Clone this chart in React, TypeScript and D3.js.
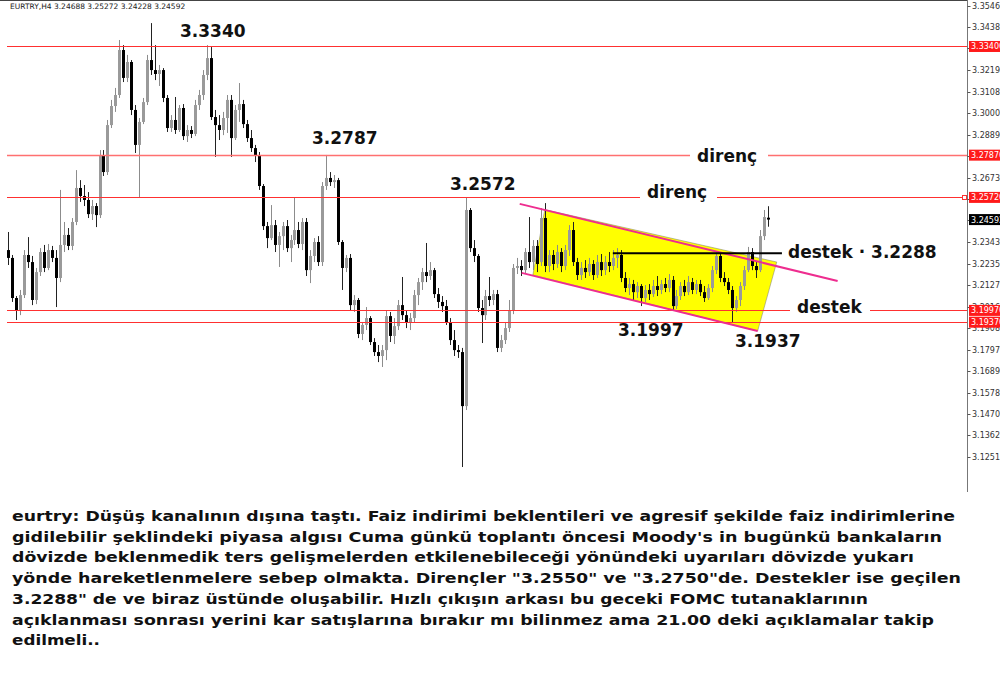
import React from "react";
import * as d3 from "d3";

// OHLC candles (EURTRY H4): [open, high, low, close]
const candles: [number, number, number, number][] = [
  [3.2304, 3.2396, 3.2228, 3.2264], [3.2264, 3.2279, 3.2040, 3.2060], [3.2060, 3.2070, 3.1948, 3.1999], [3.1999, 3.2101, 3.1973, 3.2075],
  [3.2075, 3.2304, 3.2060, 3.2279], [3.2279, 3.2370, 3.2213, 3.2243], [3.2243, 3.2274, 3.2024, 3.2050], [3.2050, 3.2213, 3.2029, 3.2192],
  [3.2192, 3.2314, 3.2172, 3.2294], [3.2294, 3.2330, 3.2192, 3.2213], [3.2213, 3.2335, 3.2202, 3.2304], [3.2304, 3.2325, 3.2243, 3.2264],
  [3.2264, 3.2304, 3.2014, 3.2162], [3.2162, 3.2610, 3.2141, 3.2330], [3.2330, 3.2447, 3.2294, 3.2381], [3.2381, 3.2416, 3.2304, 3.2325],
  [3.2325, 3.2467, 3.2304, 3.2447], [3.2447, 3.2711, 3.2431, 3.2620], [3.2620, 3.2660, 3.2549, 3.2579], [3.2579, 3.2635, 3.2528, 3.2559],
  [3.2559, 3.2599, 3.2467, 3.2487], [3.2487, 3.2559, 3.2457, 3.2528], [3.2528, 3.2543, 3.2421, 3.2482], [3.2482, 3.2813, 3.2467, 3.2783],
  [3.2783, 3.2813, 3.2681, 3.2701], [3.2701, 3.2966, 3.2686, 3.2940], [3.2940, 3.3068, 3.2925, 3.3037], [3.3037, 3.3129, 3.3007, 3.3093],
  [3.3093, 3.3373, 3.3078, 3.3322], [3.3322, 3.3347, 3.3159, 3.3180], [3.3180, 3.3297, 3.3159, 3.3261], [3.3261, 3.3271, 3.2991, 3.3017],
  [3.3017, 3.3042, 3.2798, 3.2839], [3.2839, 3.2976, 3.2574, 3.2956], [3.2956, 3.3078, 3.2945, 3.3057], [3.3057, 3.3297, 3.3042, 3.3271],
  [3.3271, 3.3459, 3.3195, 3.3220], [3.3220, 3.3347, 3.3169, 3.3200], [3.3200, 3.3246, 3.3139, 3.3220], [3.3220, 3.3230, 3.3057, 3.3078],
  [3.3078, 3.3093, 3.2905, 3.2925], [3.2925, 3.2991, 3.2905, 3.2966], [3.2966, 3.3083, 3.2895, 3.2915], [3.2915, 3.3042, 3.2905, 3.3027],
  [3.3027, 3.3047, 3.2864, 3.2884], [3.2884, 3.2940, 3.2854, 3.2915], [3.2915, 3.2935, 3.2874, 3.2895], [3.2895, 3.3068, 3.2884, 3.3042],
  [3.3042, 3.3119, 3.3017, 3.3093], [3.3093, 3.3220, 3.3068, 3.3195], [3.3195, 3.3347, 3.3169, 3.3281], [3.3281, 3.3337, 3.2966, 3.2981],
  [3.2981, 3.3017, 3.2778, 3.2940], [3.2940, 3.2991, 3.2864, 3.2915], [3.2915, 3.3007, 3.2889, 3.2976], [3.2976, 3.3093, 3.2900, 3.3068],
  [3.3068, 3.3093, 3.2778, 3.2874], [3.2874, 3.3042, 3.2864, 3.3017], [3.3017, 3.3154, 3.2956, 3.3047], [3.3047, 3.3068, 3.2925, 3.2945],
  [3.2945, 3.2966, 3.2854, 3.2874], [3.2874, 3.2915, 3.2803, 3.2823], [3.2823, 3.2839, 3.2752, 3.2783], [3.2783, 3.2803, 3.2610, 3.2630],
  [3.2630, 3.2640, 3.2406, 3.2426], [3.2426, 3.2447, 3.2314, 3.2365], [3.2365, 3.2533, 3.2355, 3.2431], [3.2431, 3.2457, 3.2294, 3.2330],
  [3.2330, 3.2396, 3.2218, 3.2375], [3.2375, 3.2447, 3.2304, 3.2426], [3.2426, 3.2457, 3.2294, 3.2314], [3.2314, 3.2381, 3.2243, 3.2355],
  [3.2355, 3.2569, 3.2330, 3.2406], [3.2406, 3.2447, 3.2314, 3.2335], [3.2335, 3.2467, 3.2304, 3.2447], [3.2447, 3.2467, 3.2172, 3.2202],
  [3.2202, 3.2304, 3.2136, 3.2274], [3.2274, 3.2365, 3.2243, 3.2345], [3.2345, 3.2375, 3.2223, 3.2243], [3.2243, 3.2650, 3.2223, 3.2630],
  [3.2630, 3.2788, 3.2610, 3.2671], [3.2671, 3.2701, 3.2630, 3.2650], [3.2650, 3.2686, 3.2620, 3.2660], [3.2660, 3.2671, 3.2330, 3.2345],
  [3.2345, 3.2355, 3.2101, 3.2213], [3.2213, 3.2279, 3.2192, 3.2264], [3.2264, 3.2284, 3.1999, 3.2024], [3.2024, 3.2075, 3.1989, 3.2050],
  [3.2050, 3.2060, 3.1856, 3.1877], [3.1877, 3.1938, 3.1846, 3.1923], [3.1923, 3.2014, 3.1897, 3.1958], [3.1958, 3.1968, 3.1821, 3.1836],
  [3.1836, 3.1856, 3.1765, 3.1785], [3.1785, 3.1821, 3.1734, 3.1765], [3.1765, 3.1821, 3.1709, 3.1795], [3.1795, 3.1999, 3.1744, 3.1968],
  [3.1968, 3.1989, 3.1836, 3.1867], [3.1867, 3.1958, 3.1826, 3.1917], [3.1917, 3.2050, 3.1897, 3.2024], [3.2024, 3.2167, 3.1948, 3.1973],
  [3.1973, 3.1999, 3.1907, 3.1938], [3.1938, 3.1984, 3.1897, 3.1958], [3.1958, 3.2101, 3.1938, 3.2075], [3.2075, 3.2162, 3.2024, 3.2141],
  [3.2141, 3.2213, 3.2101, 3.2192], [3.2192, 3.2340, 3.2141, 3.2172], [3.2172, 3.2243, 3.2152, 3.2202], [3.2202, 3.2213, 3.2060, 3.2080],
  [3.2080, 3.2111, 3.2009, 3.2040], [3.2040, 3.2070, 3.1989, 3.2019], [3.2019, 3.2050, 3.1923, 3.1938], [3.1938, 3.1958, 3.1821, 3.1846],
  [3.1846, 3.1897, 3.1765, 3.1795], [3.1795, 3.1821, 3.1755, 3.1785], [3.1785, 3.1806, 3.1200, 3.1510], [3.1510, 3.2569, 3.1490, 3.2508],
  [3.2508, 3.2518, 3.2294, 3.2314], [3.2314, 3.2355, 3.2243, 3.2274], [3.2274, 3.2284, 3.1989, 3.2009], [3.2009, 3.2050, 3.1831, 3.1973],
  [3.1973, 3.2101, 3.1948, 3.2070], [3.2070, 3.2167, 3.2019, 3.2050], [3.2050, 3.2101, 3.2024, 3.2080], [3.2080, 3.2101, 3.1785, 3.1806],
  [3.1806, 3.1872, 3.1785, 3.1846], [3.1846, 3.1938, 3.1826, 3.1907], [3.1907, 3.2050, 3.1887, 3.1999], [3.1999, 3.2233, 3.1978, 3.2213],
  [3.2213, 3.2264, 3.2182, 3.2223], [3.2223, 3.2253, 3.2172, 3.2202], [3.2202, 3.2314, 3.2182, 3.2294], [3.2294, 3.2472, 3.2213, 3.2243],
  [3.2243, 3.2355, 3.2202, 3.2325], [3.2325, 3.2355, 3.2192, 3.2233], [3.2243, 3.2518, 3.2223, 3.2467], [3.2467, 3.2543, 3.2192, 3.2223],
  [3.2223, 3.2304, 3.2192, 3.2279], [3.2279, 3.2304, 3.2202, 3.2233], [3.2233, 3.2330, 3.2213, 3.2294], [3.2294, 3.2314, 3.2192, 3.2223],
  [3.2223, 3.2330, 3.2202, 3.2304], [3.2304, 3.2431, 3.2274, 3.2406], [3.2406, 3.2447, 3.2223, 3.2243], [3.2243, 3.2264, 3.2152, 3.2177],
  [3.2177, 3.2243, 3.2152, 3.2213], [3.2213, 3.2253, 3.2162, 3.2192], [3.2192, 3.2264, 3.2172, 3.2233], [3.2233, 3.2253, 3.2152, 3.2177],
  [3.2177, 3.2279, 3.2162, 3.2243], [3.2243, 3.2284, 3.2172, 3.2202], [3.2202, 3.2274, 3.2177, 3.2243], [3.2243, 3.2294, 3.2192, 3.2223],
  [3.2223, 3.2304, 3.2202, 3.2264], [3.2264, 3.2314, 3.2213, 3.2279], [3.2279, 3.2304, 3.2141, 3.2162], [3.2162, 3.2192, 3.2090, 3.2111],
  [3.2111, 3.2162, 3.2075, 3.2131], [3.2131, 3.2152, 3.2050, 3.2090], [3.2090, 3.2141, 3.2060, 3.2121], [3.2121, 3.2131, 3.2019, 3.2060],
  [3.2060, 3.2126, 3.2040, 3.2101], [3.2101, 3.2131, 3.2050, 3.2080], [3.2080, 3.2152, 3.2065, 3.2121], [3.2121, 3.2172, 3.2070, 3.2101],
  [3.2101, 3.2152, 3.2080, 3.2131], [3.2131, 3.2162, 3.2090, 3.2111], [3.2111, 3.2182, 3.2090, 3.2152], [3.2152, 3.2172, 3.1999, 3.2019],
  [3.2019, 3.2101, 3.2004, 3.2070], [3.2070, 3.2141, 3.2050, 3.2121], [3.2121, 3.2152, 3.2070, 3.2090], [3.2090, 3.2172, 3.2075, 3.2141],
  [3.2141, 3.2162, 3.2080, 3.2101], [3.2101, 3.2152, 3.2080, 3.2131], [3.2131, 3.2152, 3.2070, 3.2090], [3.2090, 3.2121, 3.2040, 3.2060],
  [3.2060, 3.2131, 3.2050, 3.2111], [3.2111, 3.2223, 3.2090, 3.2202], [3.2202, 3.2294, 3.2182, 3.2274], [3.2274, 3.2284, 3.2141, 3.2162],
  [3.2162, 3.2192, 3.2121, 3.2141], [3.2141, 3.2162, 3.2080, 3.2101], [3.2101, 3.2121, 3.1938, 3.2009], [3.2009, 3.2070, 3.1989, 3.2050],
  [3.2050, 3.2141, 3.2019, 3.2121], [3.2121, 3.2223, 3.2101, 3.2202], [3.2202, 3.2320, 3.2192, 3.2294], [3.2294, 3.2314, 3.2202, 3.2223],
  [3.2223, 3.2243, 3.2162, 3.2202], [3.2202, 3.2406, 3.2192, 3.2375], [3.2375, 3.2508, 3.2355, 3.2472], [3.24688, 3.25272, 3.24228, 3.24592],
];

const symbolHeader = "EURTRY,H4  3.24688 3.25272 3.24228 3.24592";

const axisTicks = [3.3546, 3.3438, 3.3330, 3.3219, 3.3108, 3.3000, 3.2889, 3.2781, 3.2673, 3.2565, 3.2457,
  3.2343, 3.2235, 3.2127, 3.2016, 3.1908, 3.1797, 3.1689, 3.1578, 3.1470, 3.1362, 3.1251];

const levels = [3.3340, 3.2787, 3.2572, 3.1997, 3.1937];
const currentPrice = 3.24592;

// channel annotations in [bar index, price]
const channelUpper: [number, number][] = [[128.6, 3.2539], [208.5, 3.2147]];
const channelLower: [number, number][] = [[129.1, 3.2188], [188.4, 3.1892]];
const yellowZone: [number, number][] = [[134.9, 3.2510], [193.2, 3.2243], [188.4, 3.1892], [131.9, 3.2177]];
const supportLine = { from: 152, to: 194.5, price: 3.2288 };

const priceLabels = ["3.3340", "3.2787", "3.2572", "3.1997", "3.1937"];

const paragraph = [
  "eurtry: Düşüş kanalının dışına taştı. Faiz indirimi beklentileri ve agresif şekilde faiz indirimlerine",
  "gidilebilir şeklindeki piyasa algısı Cuma günkü toplantı öncesi  Moody's in bugünkü bankaların",
  "dövizde beklenmedik ters gelişmelerden etkilenebileceği yönündeki uyarıları dövizde yukarı",
  "yönde hareketlenmelere sebep olmakta. Dirençler \"3.2550\" ve \"3.2750\"de. Destekler ise geçilen",
  "3.2288\" de ve biraz üstünde oluşabilir. Hızlı çıkışın arkası bu geceki FOMC tutanaklarının",
  "açıklanması sonrası yerini kar satışlarına bırakır mı bilinmez ama 21.00 deki açıklamalar takip",
  "edilmeli..",
];
const paragraphWidths = [943, 930, 902, 949, 856, 922, 88];

export default function App() {
  const x = d3.scaleLinear().domain([0, candles.length - 1]).range([8, 768]);
  const y = d3.scaleLinear().domain([3.1251, 3.3546]).range([457, 6]);
  const line = d3.line<[number, number]>().x((d) => x(d[0])).y((d) => y(d[1]));
  const axisX = 967.5;
  const big = { fontFamily: "'DejaVu Sans', Verdana, sans-serif", fontWeight: 700, fontSize: 17, fill: "#111" } as const;
  const small = { fontFamily: "'DejaVu Sans', Tahoma, sans-serif", fontSize: 8 } as const;

  return (
    <div style={{ position: "absolute", left: 0, top: 0 }}>
      <svg width={1000} height={674} style={{ display: "block", background: "#fff" }}>
        <rect x={0} y={0} width={1000} height={674} fill="#fff" />
        {/* yellow zone */}
        <path d={line(yellowZone)! + "Z"} fill="#ffff00" stroke="#777" strokeWidth={0.5} />

        {/* candles */}
        {candles.map(([o, h, l, c], i) => {
          const cx = Math.round(x(i));
          const bull = c >= o;
          const top = y(Math.max(o, c));
          const bot = y(Math.min(o, c));
          const col = bull ? "#9a9a9a" : "#000";
          return (
            <g key={i}>
              <line x1={cx + 0.5} x2={cx + 0.5} y1={y(h)} y2={y(l)} stroke={bull ? "#8c8c8c" : "#222"} strokeWidth={1} />
              <rect x={cx - 1} y={top} width={3} height={Math.max(1, bot - top)} fill={col} />
            </g>
          );
        })}

        {/* horizontal levels */}
        {levels.map((p, i) => (
          <line key={i} x1={7} x2={axisX} y1={Math.round(y(p)) + 0.5} y2={Math.round(y(p)) + 0.5}
            stroke={i === 1 ? "#ff7070" : "#ff3030"} strokeWidth={i === 1 ? 1.4 : 1} />
        ))}

        {/* channel lines */}
        <path d={line(channelUpper)!} stroke="#ee2d8f" strokeWidth={2} fill="none" />
        <path d={line(channelLower)!} stroke="#ee2d8f" strokeWidth={2} fill="none" />
        <line x1={x(supportLine.from)} x2={x(supportLine.to)} y1={y(supportLine.price)} y2={y(supportLine.price)}
          stroke="#000" strokeWidth={2} />

        {/* price annotations */}
        <text x={180} y={37} {...big}>{priceLabels[0]}</text>
        <text x={312} y={144} {...big}>{priceLabels[1]}</text>
        <text x={450} y={190} {...big}>{priceLabels[2]}</text>
        <text x={618} y={336} {...big}>{priceLabels[3]}</text>
        <text x={735} y={347} {...big}>{priceLabels[4]}</text>

        <rect x={690} y={146} width={78} height={20} fill="#fff" />
        <text x={697} y={162} {...big}>direnç</text>
        <rect x={640} y={183} width={77} height={19} fill="#fff" />
        <text x={647} y={198} {...big}>direnç</text>
        <text x={788} y={258} {...big}>destek · 3.2288</text>
        <rect x={790} y={299} width={80} height={17} fill="#fff" />
        <text x={797} y={313} {...big}>destek</text>

        {/* header */}
        <line x1={0} x2={axisX} y1={0.5} y2={0.5} stroke="#444" />
        <text x={10} y={9} {...small} fontSize={7.5} fill="#222">{symbolHeader}</text>

        {/* right axis */}
        <line x1={axisX} x2={axisX} y1={0} y2={492} stroke="#777" />
        {axisTicks.map((t, i) => (
          <g key={i}>
            <line x1={axisX} x2={axisX + 3} y1={Math.round(y(t)) + 0.5} y2={Math.round(y(t)) + 0.5} stroke="#555" />
            <text x={972} y={y(t) + 3} {...small} fill="#333">{t.toFixed(5)}</text>
          </g>
        ))}
        {levels.map((p, i) => (
          <g key={i}>
            <rect x={969} y={y(p) - 5.5} width={31} height={11} fill="#ff1a1a" />
            <text x={971} y={y(p) + 3} {...small} fill="#fff">{p.toFixed(5)}</text>
          </g>
        ))}
        <rect x={962.5} y={Math.round(y(levels[2])) - 1.5} width={4} height={4} fill="#fff" stroke="#ff3030" />
        <rect x={969} y={y(currentPrice) - 5.5} width={31} height={11} fill="#000" />
        <text x={971} y={y(currentPrice) + 3} {...small} fill="#fff">{currentPrice.toFixed(5)}</text>

        {/* commentary */}
        {paragraph.map((t, i) => (
          <text key={i} x={12} y={521 + i * 20.7} fontFamily="'DejaVu Sans', Verdana, sans-serif" fontWeight={700}
            fontSize={14} fill="#111" textLength={paragraphWidths[i]} lengthAdjust="spacingAndGlyphs">{t}</text>
        ))}
      </svg>
    </div>
  );
}
